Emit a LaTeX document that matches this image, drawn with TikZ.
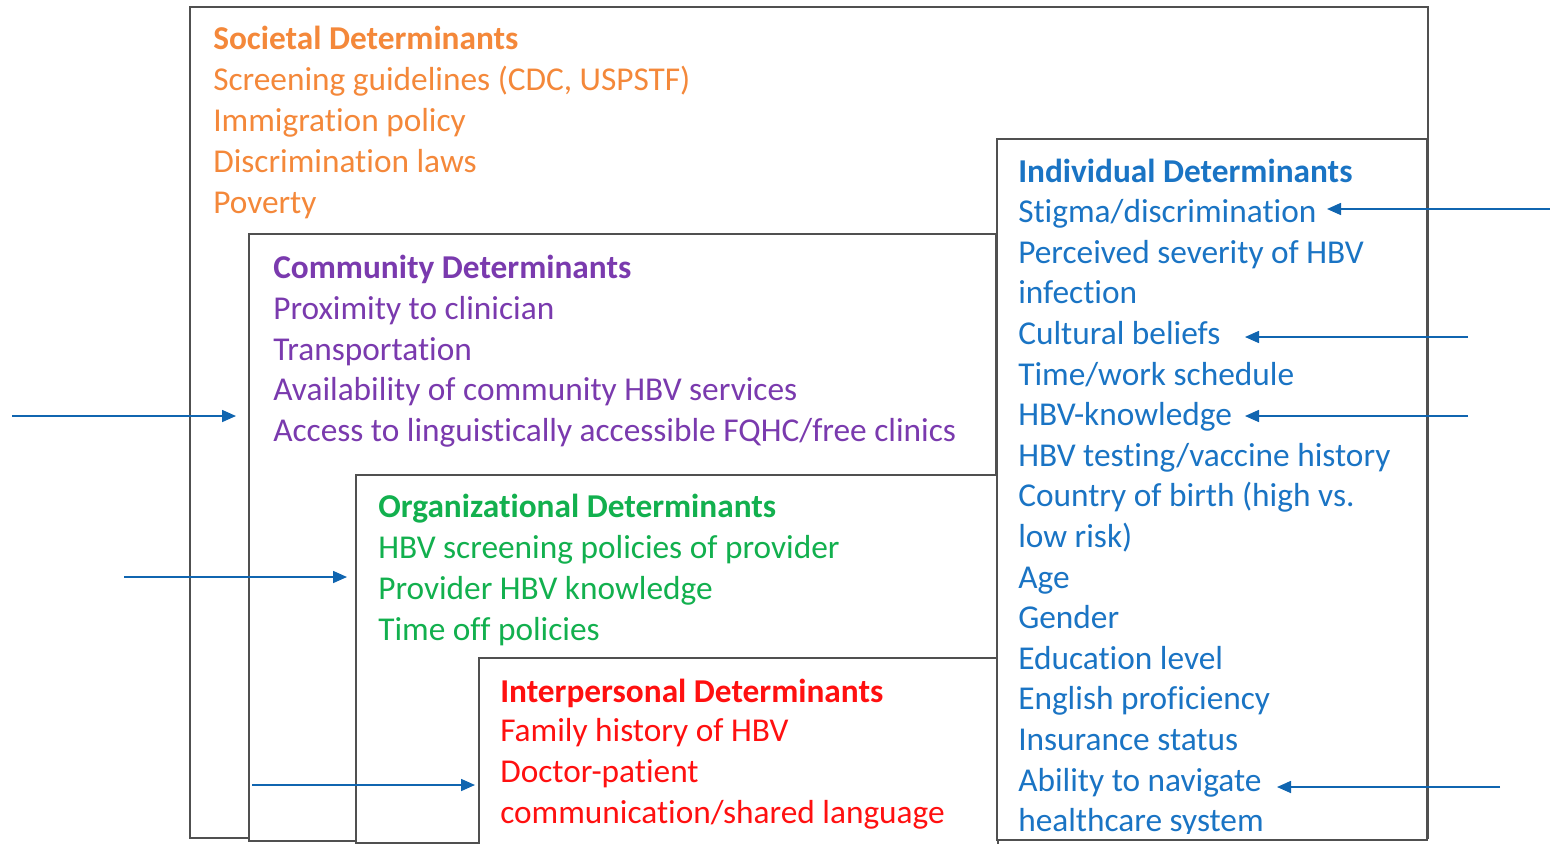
\documentclass[tikz,border=0pt]{standalone}
\usepackage{fontspec}
\setmainfont{Carlito}[Ligatures=NoCommon]
\usetikzlibrary{arrows.meta,fit}
\definecolor{socC}{HTML}{F4883A}
\definecolor{comC}{HTML}{7A3AAE}
\definecolor{orgC}{HTML}{12B04E}
\definecolor{intC}{HTML}{FF1010}
\definecolor{indC}{HTML}{1A74C4}
\definecolor{arrC}{HTML}{1065B0}
\definecolor{boxC}{HTML}{505050}
\tikzset{
  box/.style={draw=boxC, line width=1.6pt, fill=white, inner sep=0pt, rectangle},
  txt/.style={anchor=base west, inner sep=0pt, font=\fontsize{25}{30}\selectfont},
  hd/.style={anchor=base west, inner sep=0pt, font=\fontsize{25}{30}\selectfont\bfseries},
  arr/.style={draw=arrC, line width=1.2pt, -{Triangle[length=10.5pt,width=9pt]}}
}
\begin{document}
\begin{tikzpicture}[x=0.75pt,y=-0.75pt]
\useasboundingbox (0,0) rectangle (1550,843);
\clip (0,0) rectangle (1550,843);
% boxes
\node[box, fit={(190,7) (1428,838)}] (soc) {};
\node[box, fit={(249,234) (996,841)}] (com) {};
\node[box, fit={(356,475) (998,843)}] (org) {};
\node[box, fit={(479,658) (998,852)}] (int) {};
\node[box, fit={(997,139) (1427,840)}] (ind) {};
% societal
\node[hd, text=socC] (s0) at (213,49) {Societal Determinants};
\node[txt, text=socC] (s1) at (213,90) {Screening guidelines (CDC, USPSTF)};
\node[txt, text=socC] (s2) at (213,131) {Immigration policy};
\node[txt, text=socC] (s3) at (213,172) {Discrimination laws};
\node[txt, text=socC] (s4) at (213,213) {Poverty};
% community
\node[hd, text=comC] (c0) at (273,278) {Community Determinants};
\node[txt, text=comC] (c1) at (273,319) {Proximity to clinician};
\node[txt, text=comC] (c2) at (273,360) {Transportation};
\node[txt, text=comC] (c3) at (273,400) {Availability of community HBV services};
\node[txt, text=comC] (c4) at (273,441) {Access to linguistically accessible FQHC/free clinics};
% organizational
\node[hd, text=orgC] (o0) at (378,517) {Organizational Determinants};
\node[txt, text=orgC] (o1) at (378,558) {HBV screening policies of provider};
\node[txt, text=orgC] (o2) at (378,599) {Provider HBV knowledge};
\node[txt, text=orgC] (o3) at (378,640) {Time off policies};
% interpersonal
\node[hd, text=intC] (p0) at (500,702) {Interpersonal Determinants};
\node[txt, text=intC] (p1) at (500,741) {Family history of HBV};
\node[txt, text=intC] (p2) at (500,782) {Doctor-patient};
\node[txt, text=intC] (p3) at (500,823) {communication/shared language};
% individual
\begin{scope}
\clip (1000,141) rectangle (1425,833);
\node[hd, text=indC] (i0) at (1018,182) {Individual Determinants};
\node[txt, text=indC] (i1) at (1018,222.6) {Stigma/discrimination};
\node[txt, text=indC] (i2) at (1018,263.2) {Perceived severity of HBV};
\node[txt, text=indC] (i3) at (1018,303.8) {infection};
\node[txt, text=indC] (i4) at (1018,344.4) {Cultural beliefs};
\node[txt, text=indC] (i5) at (1018,385) {Time/work schedule};
\node[txt, text=indC] (i6) at (1018,425.6) {HBV-knowledge};
\node[txt, text=indC] (i7) at (1018,466.2) {HBV testing/vaccine history};
\node[txt, text=indC] (i8) at (1018,506.8) {Country of birth (high vs.};
\node[txt, text=indC] (i9) at (1018,547.4) {low risk)};
\node[txt, text=indC] (i10) at (1018,588) {Age};
\node[txt, text=indC] (i11) at (1018,628.6) {Gender};
\node[txt, text=indC] (i12) at (1018,669.2) {Education level};
\node[txt, text=indC] (i13) at (1018,709.8) {English proficiency};
\node[txt, text=indC] (i14) at (1018,750.4) {Insurance status};
\node[txt, text=indC] (i15) at (1018,791) {Ability to navigate};
\node[txt, text=indC] (i16) at (1018,831.6) {healthcare system};
\end{scope}
% arrows
\coordinate (r1s) at (1550,209); \coordinate (r1e) at (1327,209);
\coordinate (r2s) at (1468,337); \coordinate (r2e) at (1245,337);
\coordinate (r3s) at (1468,416); \coordinate (r3e) at (1245,416);
\coordinate (r4s) at (1500,787); \coordinate (r4e) at (1277,787);
\coordinate (l1s) at (12,416);  \coordinate (l1e) at (236,416);
\coordinate (l2s) at (124,577); \coordinate (l2e) at (347,577);
\coordinate (l3s) at (252,785); \coordinate (l3e) at (475,785);
\draw[arr] (r1s) -- (r1e);
\draw[arr] (r2s) -- (r2e);
\draw[arr] (r3s) -- (r3e);
\draw[arr] (r4s) -- (r4e);
\draw[arr] (l1s) -- (l1e);
\draw[arr] (l2s) -- (l2e);
\draw[arr] (l3s) -- (l3e);
\end{tikzpicture}
\end{document}
